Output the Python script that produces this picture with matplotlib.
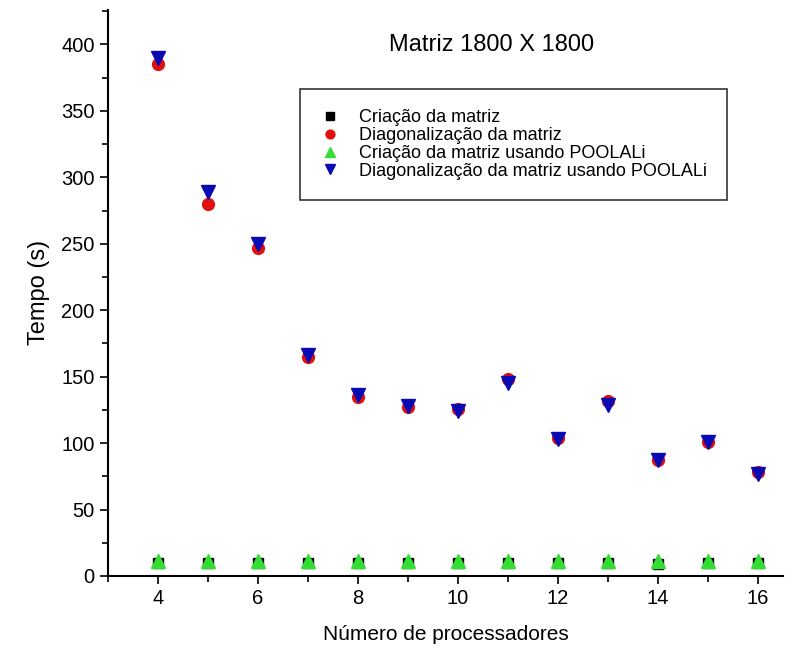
import matplotlib.pyplot as plt
from matplotlib.ticker import MultipleLocator

plt.rcParams['font.family'] = ['Liberation Sans', 'DejaVu Sans']

procs = [4, 5, 6, 7, 8, 9, 10, 11, 12, 13, 14, 15, 16]
criacao = [10, 10, 10, 10, 10, 10, 10, 10, 10, 10, 9, 10, 10]
diagonal = [385, 280, 247, 165, 135, 127, 126, 148, 104, 132, 87, 101, 78]
criacao_pool = [11, 11, 11, 11, 11, 11, 11, 11, 11, 11, 11, 11, 11]
diagonal_pool = [390, 289, 250, 166, 136, 128, 124, 145, 103, 129, 87, 101, 77]

fig = plt.figure(figsize=(7.99, 6.62), dpi=100)
ax = fig.add_axes([0.135, 0.13, 0.845, 0.855])

ax.plot(procs, criacao, 's', c='black', ms=7, label='Criação da matriz')
ax.plot(procs, diagonal, 'o', c='#e01010', ms=8.5, label='Diagonalização da matriz')
ax.plot(procs, criacao_pool, '^', c='#33dd33', ms=10, label='Criação da matriz usando POOLALi')
ax.plot(procs, diagonal_pool, 'v', c='#0a0ab4', ms=10, label='Diagonalização da matriz usando POOLALi')

ax.set_xlim(3, 16.5)
ax.set_ylim(0, 426)
ax.xaxis.set_major_locator(MultipleLocator(2))
ax.xaxis.set_minor_locator(MultipleLocator(1))
ax.yaxis.set_major_locator(MultipleLocator(50))
ax.yaxis.set_minor_locator(MultipleLocator(25))
ax.tick_params(which='major', direction='out', length=6, width=1.2, labelsize=14.5)
ax.tick_params(which='minor', direction='out', length=4, width=1.2)
ax.spines['top'].set_visible(False)
ax.spines['right'].set_visible(False)
ax.spines['left'].set_linewidth(1.5)
ax.spines['bottom'].set_linewidth(1.5)

ax.set_xlabel('Número de processadores', fontsize=15, labelpad=12)
ax.set_ylabel('Tempo (s)', fontsize=17, labelpad=8)
ax.text(0.569, 0.938, 'Matriz 1800 X 1800', transform=ax.transAxes,
        ha='center', va='center', fontsize=17)

leg = ax.legend(loc='upper left', bbox_to_anchor=(0.284, 0.860), fontsize=13,
                frameon=True, fancybox=False, edgecolor='black', markerscale=0.75,
                handlelength=1.2, handletextpad=1.0, labelspacing=0.05,
                borderpad=1.1, borderaxespad=0)
leg.get_frame().set_linewidth(1.2)

fig.savefig('out.png', dpi=100)
